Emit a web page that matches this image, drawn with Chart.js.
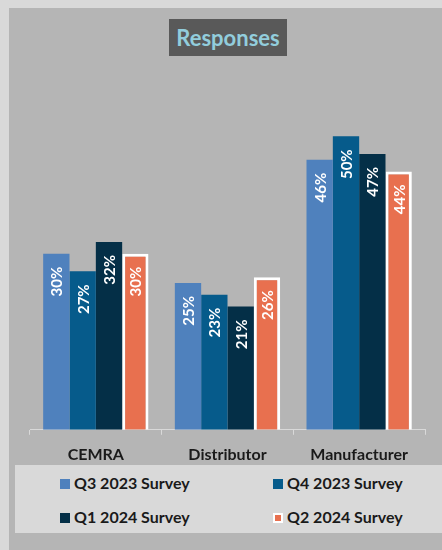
<!DOCTYPE html>
<html>
<head>
<meta charset="utf-8">
<script src="https://cdn.jsdelivr.net/npm/chart.js@4"></script>
<style>
  body { margin: 0; background: #d9d9d9; font-family: Lato, sans-serif; }
  #panel { position: absolute; left: 9px; top: 8px; width: 433px; height: 542px; background: #b5b5b5; }
  #title { position: absolute; left: 160px; top: 11px; width: 118px; height: 37px; background: #595959;
           color: #92cddc; font: bold 22px Lato, sans-serif; line-height: 37px; text-align: center; }
  #wrap { position: absolute; left: 0; top: 0; width: 433px; height: 466px; }
  #legend { position: absolute; left: 6px; top: 457px; width: 427px; height: 68px; background: #d9d9d9; }
  .item { position: absolute; font: bold 16px Lato, sans-serif; color: #1a1a1a; line-height: 18px; white-space: nowrap; }
  .item span { display: inline-block; width: 10px; height: 10px; margin-right: 4px; vertical-align: 0px; box-sizing: border-box; }
</style>
</head>
<body>
<div id="panel">
  <div id="title">Responses</div>
  <div id="wrap"><canvas id="grafico"></canvas></div>
  <div id="legend"></div>
</div>
<script>
const categorias = ['CEMRA', 'Distributor', 'Manufacturer'];
const series = ['Q3 2023 Survey', 'Q4 2023 Survey', 'Q1 2024 Survey', 'Q2 2024 Survey'];
const q3_2023 = [30, 25, 46];
const q4_2023 = [27, 23, 50];
const q1_2024 = [32, 21, 47];
const q2_2024 = [30, 26, 44];
const cores = ['#4f81bd', '#065b8b', '#042f47', '#e8704f'];

// rótulos brancos girados dentro do topo da barra
const rotulos = {
    id: 'rotulos',
    afterDatasetsDraw(chart) {
        const ctx = chart.ctx;
        chart.data.datasets.forEach((ds, i) => {
            chart.getDatasetMeta(i).data.forEach((bar, j) => {
                ctx.save();
                ctx.translate(bar.x, bar.y + 13);
                ctx.rotate(-Math.PI / 2);
                ctx.fillStyle = '#ffffff';
                ctx.font = 'bold 15px Lato, sans-serif';
                ctx.textAlign = 'right';
                ctx.textBaseline = 'middle';
                ctx.fillText(ds.data[j] + '%', 0, 1);
                ctx.restore();
            });
        });
    }
};

const valores = [q3_2023, q4_2023, q1_2024, q2_2024];
const ctx = document.getElementById('grafico').getContext('2d');
const grafico = new Chart(ctx, {
    type: 'bar',
    data: {
        labels: categorias,
        datasets: series.map((s, i) => ({
            label: s,
            data: valores[i],
            backgroundColor: cores[i],
            borderColor: i === 3 ? '#ffffff' : cores[i],
            borderWidth: i === 3 ? 3 : 0,
            categoryPercentage: 0.8,
            barPercentage: 1.0
        }))
    },
    options: {
        responsive: true,
        maintainAspectRatio: false,
        animation: false,
        layout: { padding: { left: 21, right: 17, top: 99, bottom: 0 } },
        plugins: { legend: { display: false }, tooltip: { enabled: false } },
        scales: {
            x: {
                grid: { offset: true, drawOnChartArea: false, drawTicks: true, tickLength: 5, color: '#d9d9d9' },
                border: { color: '#d9d9d9', width: 1 },
                ticks: { color: '#1a1a1a', padding: 10, font: { family: 'Lato', weight: 'bold', size: 16 } }
            },
            y: { display: false, min: 0, max: 55 }
        }
    },
    plugins: [rotulos]
});

// legenda em html, montada a partir dos datasets
const legenda = document.getElementById('legend');
const posicoes = [[45, 9], [258, 9], [45, 43], [258, 43]];
grafico.data.datasets.forEach((ds, i) => {
    const el = document.createElement('div');
    el.className = 'item';
    el.style.left = posicoes[i][0] + 'px';
    el.style.top = posicoes[i][1] + 'px';
    const sq = document.createElement('span');
    sq.style.background = ds.backgroundColor;
    if (i === 3) sq.style.border = '2px solid #ffffff';
    el.appendChild(sq);
    el.appendChild(document.createTextNode(ds.label));
    legenda.appendChild(el);
});
</script>
</body>
</html>
